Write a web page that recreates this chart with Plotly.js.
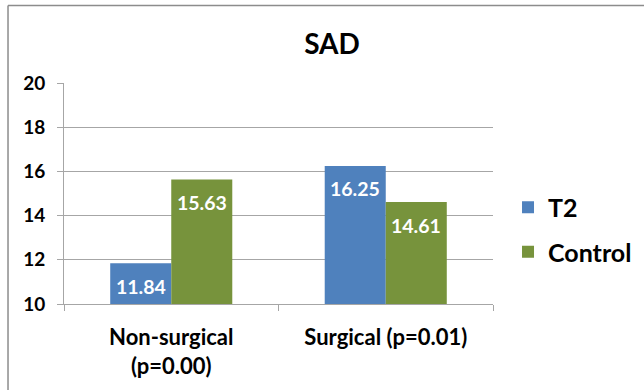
<!DOCTYPE html>
<html>
<head>
<meta charset="utf-8">
<script src="https://cdn.plot.ly/plotly-3.0.1.min.js"></script>
<style>
  html, body { margin: 0; padding: 0; background: #fff; }
  #chart { width: 644px; height: 390px; }
</style>
</head>
<body>
<div id="chart"></div>
<script>
// SAD scores by treatment group
const categories = ["Non-surgical<br>(p=0.00)", "Surgical (p=0.01)"];
const seriesNames = ["T2", "Control"];
const t2Values = [11.84, 16.25];
const controlValues = [15.63, 14.61];
const yTicks = [10, 12, 14, 16, 18, 20];

const colors = ["#4F81BD", "#77933C"];
const fontFamily = "Lato, 'Open Sans', sans-serif";
const gray = "#A6A6A6";

const traces = [t2Values, controlValues].map((vals, i) => ({
  type: "bar",
  name: seriesNames[i],
  x: categories,
  y: vals,
  marker: { color: colors[i] },
  legendgroup: "g" + i,
  hoverinfo: "skip"
}));

// value labels sit inside each bar, just below its top
const barOffset = [-30.5, 30.5];
const annotations = [];
[t2Values, controlValues].forEach((vals, i) => {
  vals.forEach((v, j) => {
    annotations.push({
      x: categories[j], y: v, xref: "x", yref: "y",
      text: v.toFixed(2), showarrow: false,
      xshift: barOffset[i], yshift: -23, yanchor: "middle",
      font: { family: fontFamily, size: 19.5, color: "#ffffff", weight: "bold" }
    });
  });
});

const layout = {
  width: 644, height: 390,
  margin: { l: 64, r: 151, t: 83, b: 86, autoexpand: false },
  paper_bgcolor: "#ffffff", plot_bgcolor: "#ffffff",
  barmode: "group", bargap: 0.431, bargroupgap: 0,
  font: { family: fontFamily, color: "#000000" },
  title: {
    text: "SAD",
    font: { family: fontFamily, size: 28, weight: "bold", color: "#000000" },
    xref: "container", yref: "container", x: 0.5155, y: 0.887,
    xanchor: "center", yanchor: "middle"
  },
  xaxis: {
    type: "category",
    showline: true, linecolor: gray, linewidth: 1,
    ticks: "outside", tickson: "boundaries", ticklen: 6, tickcolor: gray,
    tickfont: { family: fontFamily, size: 22, weight: "bold", color: "#000000" },
    ticklabelstandoff: 14,
    showgrid: false, zeroline: false, fixedrange: true
  },
  yaxis: {
    range: [10, 20],
    tickvals: yTicks, ticktext: yTicks.map(String),
    showline: true, linecolor: gray, linewidth: 1,
    ticks: "outside", ticklen: 6, tickcolor: gray,
    showgrid: true, gridcolor: gray, gridwidth: 1,
    tickfont: { family: fontFamily, size: 19, weight: "bold", color: "#000000" },
    ticklabelstandoff: 8,
    zeroline: false, fixedrange: true
  },
  showlegend: true,
  legend: {
    x: 1.035, y: 0.337, xanchor: "left", yanchor: "middle",
    traceorder: "grouped", tracegroupgap: 9,
    itemwidth: 30,
    font: { family: fontFamily, size: 25, weight: "bold", color: "#000000" },
    bgcolor: "rgba(0,0,0,0)", borderwidth: 0
  },
  annotations: annotations,
  // outer chart frame (left and top edges)
  shapes: [
    { type: "line", xref: "paper", yref: "paper", x0: -0.1305, x1: 1.6, y0: 1.3507, y1: 1.3507,
      line: { color: "#8C8C8C", width: 1.5 } },
    { type: "line", xref: "paper", yref: "paper", x0: -0.1305, x1: -0.1305, y0: -0.5, y1: 1.3507,
      line: { color: "#8C8C8C", width: 1.5 } }
  ]
};

Plotly.newPlot("chart", traces, layout, { displayModeBar: false, staticPlot: true });
</script>
</body>
</html>
